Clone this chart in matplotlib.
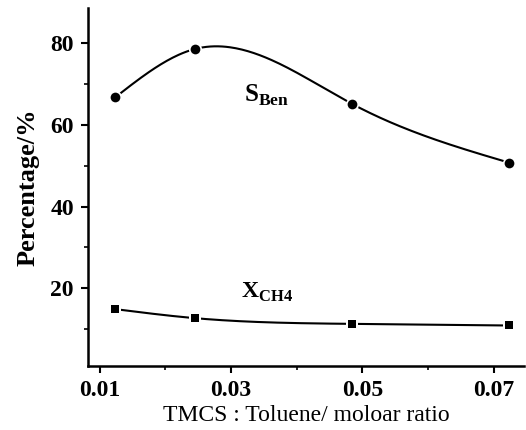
import numpy as np
import matplotlib
matplotlib.use('Agg')
import matplotlib.pyplot as plt

# data
ratio = [0.0124, 0.0245, 0.0484, 0.0723]
s_ben = [66.8, 78.6, 65.2, 50.8]
x_ch4 = [14.9, 12.7, 11.3, 10.9]
xticks = [0.01, 0.03, 0.05, 0.07]
yticks = [20, 40, 60, 80]


def natural_spline(x, y, n=200):
    # plain natural cubic spline, just for drawing the smooth line
    x = np.asarray(x, float)
    y = np.asarray(y, float)
    k = len(x)
    h = np.diff(x)
    A = np.zeros((k, k))
    b = np.zeros(k)
    A[0, 0] = A[-1, -1] = 1
    for i in range(1, k - 1):
        A[i, i - 1] = h[i - 1]
        A[i, i] = 2 * (h[i - 1] + h[i])
        A[i, i + 1] = h[i]
        b[i] = 6 * ((y[i + 1] - y[i]) / h[i] - (y[i] - y[i - 1]) / h[i - 1])
    m = np.linalg.solve(A, b)
    xs = np.linspace(x[0], x[-1], n)
    idx = np.clip(np.searchsorted(x, xs) - 1, 0, k - 2)
    t0 = x[idx]
    t1 = x[idx + 1]
    hh = t1 - t0
    ys = (m[idx] * (t1 - xs) ** 3 / (6 * hh) + m[idx + 1] * (xs - t0) ** 3 / (6 * hh)
          + (y[idx] / hh - m[idx] * hh / 6) * (t1 - xs)
          + (y[idx + 1] / hh - m[idx + 1] * hh / 6) * (xs - t0))
    return xs, ys


plt.rcParams['font.family'] = ['Liberation Serif', 'DejaVu Serif']
plt.rcParams['mathtext.fontset'] = 'custom'
plt.rcParams['mathtext.rm'] = 'Liberation Serif'
plt.rcParams['mathtext.bf'] = 'Liberation Serif:bold'

fig = plt.figure(figsize=(5.26, 4.30), dpi=100)
ax = fig.add_axes([0.167, 0.149, 0.83, 0.832])

for yy, mk, ms in [(s_ben, 'o', 9.5), (x_ch4, 's', 8.5)]:
    xs, ys = natural_spline(ratio, yy)
    ax.plot(xs, ys, color='black', lw=1.5, zorder=2)
    ax.plot(ratio, yy, mk, color='white', ms=ms, mec='white', mew=0, zorder=3)
    ax.plot(ratio, yy, mk, color='black', ms=ms - 2.5, mec='black', mew=0, zorder=4)

ax.text(0.0320, 65.6, r'$\mathbf{S}_{\mathbf{Ben}}$', fontsize=18, ha='left', va='baseline')
ax.text(0.0315, 17.8, r'$\mathbf{X}_{\mathbf{CH4}}$', fontsize=17, ha='left', va='baseline')

ax.set_xlim(0.0082, 0.0747)
ax.set_ylim(1, 88.6)
ax.set_xticks(xticks)
ax.set_xticklabels(['0.01', '0.03', '0.05', '0.07'])
ax.set_yticks(yticks)
ax.set_xticks([0.02, 0.04, 0.06], minor=True)
ax.set_yticks([10, 30, 50, 70], minor=True)

for s in ['top', 'right']:
    ax.spines[s].set_visible(False)
for s in ['left', 'bottom']:
    ax.spines[s].set_linewidth(1.8)

ax.tick_params(which='major', direction='out', length=5, width=1.5, labelsize=17, pad=5)
ax.tick_params(which='minor', direction='out', length=3, width=1.2)
for lab in ax.get_xticklabels() + ax.get_yticklabels():
    lab.set_fontweight('bold')

ax.set_ylabel('Percentage/%', fontsize=19, fontweight='bold', labelpad=8)
ax.set_xlabel('TMCS : Toluene/ moloar ratio', fontsize=17, labelpad=3)

fig.savefig('out.png', dpi=100)
